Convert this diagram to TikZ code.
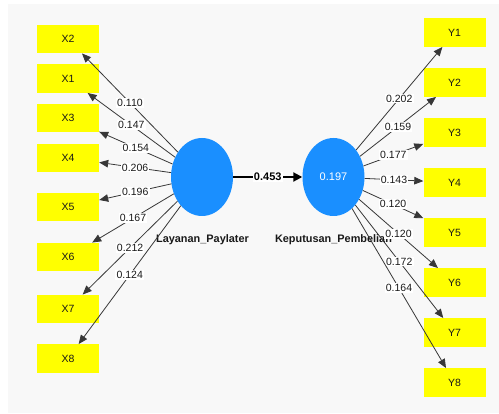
\documentclass[tikz,border=0pt]{standalone}
\usepackage{fontspec}
\setmainfont{Liberation Sans}
\usetikzlibrary{arrows.meta,shapes.geometric}
\definecolor{plsblue}{RGB}{26,143,255}
\definecolor{plsyellow}{RGB}{255,255,0}
\definecolor{bggray}{RGB}{248,248,248}
\definecolor{edgegray}{RGB}{55,55,55}
\tikzset{
  indbox/.style={rectangle, fill=plsyellow, minimum width=62pt, minimum height=28.5pt, inner sep=0pt, font=\fontsize{10.5}{12}\selectfont, text=black!90},
  latent/.style={ellipse, fill=plsblue, minimum width=62pt, minimum height=78pt, inner sep=0pt},
  lvname/.style={font=\bfseries\fontsize{10.9}{13}\selectfont, text=black!90, inner sep=0pt},
  outer/.style={draw=edgegray, line width=0.8pt, -{Triangle[length=9pt,width=7.5pt]}},
  wlab/.style={fill=white, inner sep=1.2pt, font=\fontsize{10.5}{12}\selectfont, text=black!90, pos=0.5},
  pathedge/.style={draw=black, line width=2pt, -{Triangle[length=9pt,width=9pt]}}
}
\begin{document}
\begin{tikzpicture}[x=1pt,y=-1pt]
\useasboundingbox (0,0) rectangle (499,414);
\fill[white] (0,0) rectangle (499,414);
\fill[bggray] (8,4) rectangle (499,413);
% latent variables
\node[latent] (LP) at (202,177) {};
\node[latent] (KP) at (333.5,177) {};
\node[text=white, font=\fontsize{11}{13}\selectfont, inner sep=0pt] (r2) at (KP.center) {0.197};
\node[lvname] (nLP) at (202.5,239.5) {Layanan\_Paylater};
\node[lvname] (nKP) at (333.5,240) {Keputusan\_Pembelian};
% indicators left
\node[indbox] (X2) at (68,39) {X2};
\node[indbox] (X1) at (68,78.5) {X1};
\node[indbox] (X3) at (68,118) {X3};
\node[indbox] (X4) at (68,158) {X4};
\node[indbox] (X5) at (68,207) {X5};
\node[indbox] (X6) at (68,257) {X6};
\node[indbox] (X7) at (68,309) {X7};
\node[indbox] (X8) at (68,358.5) {X8};
% indicators right
\node[indbox] (Y1) at (454.5,32.5) {Y1};
\node[indbox] (Y2) at (454.5,82.5) {Y2};
\node[indbox] (Y3) at (454.5,132.5) {Y3};
\node[indbox] (Y4) at (454.5,182.5) {Y4};
\node[indbox] (Y5) at (454.5,232.5) {Y5};
\node[indbox] (Y6) at (454.5,282.5) {Y6};
\node[indbox] (Y7) at (454.5,332.5) {Y7};
\node[indbox] (Y8) at (454.5,382.5) {Y8};
% outer weights left
\draw[outer] (LP) -- node[wlab] (w1) {0.110} (X2);
\draw[outer] (LP) -- node[wlab] (w2) {0.147} (X1);
\draw[outer] (LP) -- node[wlab] (w3) {0.154} (X3);
\draw[outer] (LP) -- node[wlab] (w4) {0.206} (X4);
\draw[outer] (LP) -- node[wlab] (w5) {0.196} (X5);
\draw[outer] (LP) -- node[wlab] (w6) {0.167} (X6);
\draw[outer] (LP) -- node[wlab] (w7) {0.212} (X7);
\draw[outer] (LP) -- node[wlab] (w8) {0.124} (X8);
% outer weights right
\draw[outer] (KP) -- node[wlab] (v1) {0.202} (Y1);
\draw[outer] (KP) -- node[wlab] (v2) {0.159} (Y2);
\draw[outer] (KP) -- node[wlab] (v3) {0.177} (Y3);
\draw[outer] (KP) -- node[wlab] (v4) {0.143} (Y4);
\draw[outer] (KP) -- node[wlab] (v5) {0.120} (Y5);
\draw[outer] (KP) -- node[wlab] (v6) {0.120} (Y6);
\draw[outer] (KP) -- node[wlab] (v7) {0.172} (Y7);
\draw[outer] (KP) -- node[wlab] (v8) {0.164} (Y8);
% path coefficient
\draw[pathedge] (LP) -- node[wlab, font=\bfseries\fontsize{11}{13}\selectfont, text=black] (pc) {0.453} (KP);
\end{tikzpicture}
\end{document}
